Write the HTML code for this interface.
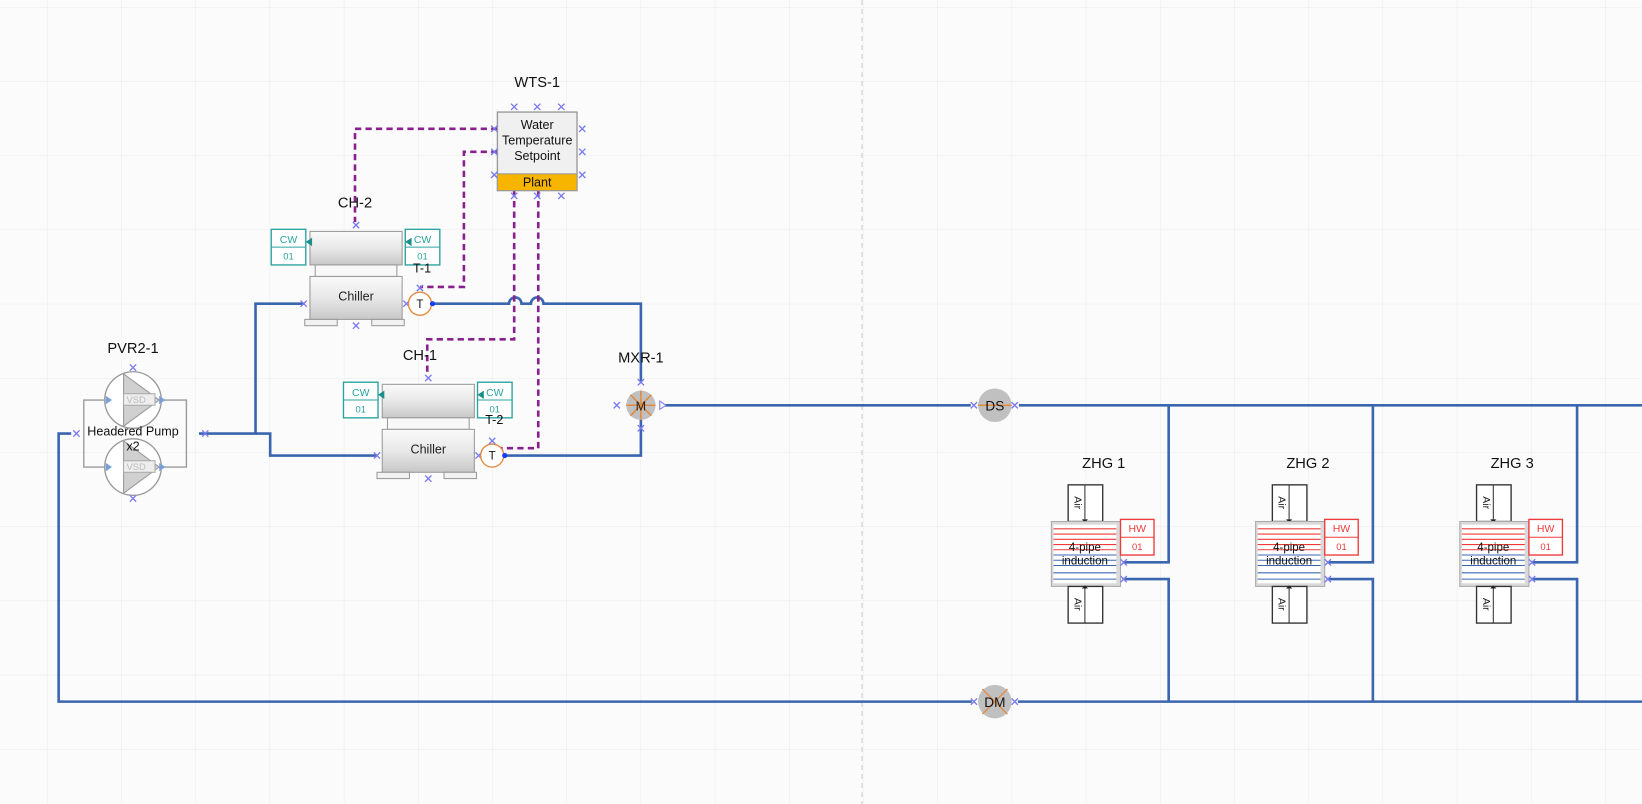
<!DOCTYPE html>
<html><head><meta charset="utf-8"><style>
html,body{margin:0;padding:0;background:#fbfbfb;}
svg{display:block;font-family:"Liberation Sans",sans-serif;}
</style></head><body>
<svg width="1642" height="804" viewBox="0 0 1642 804" xmlns="http://www.w3.org/2000/svg">
<defs>
<pattern id="g" x="47" y="7" width="74.2" height="74.2" patternUnits="userSpaceOnUse">
<path d="M0 0H74.2M0 0V74.2" stroke="#ebebeb" stroke-width="1" fill="none"/>
</pattern>
<linearGradient id="cyl" x1="0" y1="0" x2="0" y2="1"><stop offset="0" stop-color="#fafafa"/><stop offset="0.5" stop-color="#e8e8e8"/><stop offset="1" stop-color="#c8c8c8"/></linearGradient>
<g id="x"><path d="M-3-3L3 3M-3 3L3-3" stroke="#7b7bf0" stroke-width="1.3"/></g>
<g id="chiller">
<rect x="0" y="0" width="88" height="32" fill="url(#cyl)" stroke="#999"/>
<rect x="5" y="32" width="78" height="11" fill="#f8f8f8" stroke="#999"/>
<rect x="0" y="43" width="88" height="41" fill="url(#cyl)" stroke="#999"/>
<rect x="-5" y="84" width="31" height="6" fill="#f2f2f2" stroke="#999"/>
<rect x="59" y="84" width="31" height="6" fill="#f2f2f2" stroke="#999"/>
<text x="44" y="66" font-size="12" text-anchor="middle" fill="#222">Chiller</text>
<rect x="-37" y="-2" width="33" height="34" fill="#fff" stroke="#2aa3a0" stroke-width="1.3"/>
<line x1="-37" y1="15" x2="-4" y2="15" stroke="#2aa3a0"/>
<text x="-20.5" y="11" font-size="10" text-anchor="middle" fill="#2aa3a0">CW</text>
<text x="-20.5" y="27" font-size="9" text-anchor="middle" fill="#2aa3a0">01</text>
<rect x="91" y="-2" width="33" height="34" fill="#fff" stroke="#2aa3a0" stroke-width="1.3"/>
<line x1="91" y1="15" x2="124" y2="15" stroke="#2aa3a0"/>
<text x="107.5" y="11" font-size="10" text-anchor="middle" fill="#2aa3a0">CW</text>
<text x="107.5" y="27" font-size="9" text-anchor="middle" fill="#2aa3a0">01</text>
<path d="M-4 10l6-4v8z" fill="#1a8f8a"/><path d="M91 10l6-4v8z" fill="#1a8f8a"/>
<use href="#x" x="44" y="-6"/><use href="#x" x="44" y="90"/>
</g>
<g id="zhg">
<rect x="16" y="0" width="33" height="35" fill="#fff" stroke="#333" stroke-width="1.3"/>
<line x1="32" y1="0" x2="32" y2="35" stroke="#333"/>
<text transform="translate(22,17) rotate(90)" font-size="10" text-anchor="middle" fill="#222">Air</text>
<path d="M29 33h6l-3 3z" fill="#222"/>
<rect x="0" y="35" width="66" height="62" fill="#d9d9d9" stroke="#aaa"/>
<rect x="2" y="38" width="60" height="56" fill="#fff"/>
<g stroke="#f03a3a" stroke-width="1"><line x1="2" y1="42" x2="62" y2="42"/><line x1="2" y1="47" x2="62" y2="47"/><line x1="2" y1="52" x2="62" y2="52"/><line x1="2" y1="57" x2="62" y2="57"/><line x1="2" y1="62" x2="62" y2="62"/></g>
<g stroke="#3a66b0" stroke-width="1"><line x1="2" y1="67" x2="62" y2="67"/><line x1="2" y1="72" x2="62" y2="72"/><line x1="2" y1="77" x2="62" y2="77"/><line x1="2" y1="84" x2="62" y2="84"/><line x1="2" y1="90" x2="62" y2="90"/></g>
<text x="32" y="63" font-size="11" text-anchor="middle" fill="#111">4-pipe</text>
<text x="32" y="76" font-size="11" text-anchor="middle" fill="#111">induction</text>
<rect x="66" y="33" width="32" height="34" fill="#fff" stroke="#f03a3a" stroke-width="1.3"/>
<line x1="66" y1="50" x2="98" y2="50" stroke="#f03a3a"/>
<text x="82" y="45" font-size="10" text-anchor="middle" fill="#f03a3a">HW</text>
<text x="82" y="62" font-size="9" text-anchor="middle" fill="#f03a3a">01</text>
<rect x="16" y="97" width="33" height="35" fill="#fff" stroke="#333" stroke-width="1.3"/>
<line x1="32" y1="97" x2="32" y2="132" stroke="#333"/>
<text transform="translate(22,114) rotate(90)" font-size="10" text-anchor="middle" fill="#222">Air</text>
<path d="M29 99h6l-3-3z" fill="#222"/>
<use href="#x" x="69" y="74"/><use href="#x" x="69" y="90"/>
</g>
</defs>
<rect width="1642" height="804" fill="url(#g)"/>
<line x1="862" y1="0" x2="862" y2="804" stroke="#c8c8c8" stroke-dasharray="5,4"/>

<g transform="scale(1.0472)">
<!-- pipes -->
<g stroke="#3a66b0" stroke-width="2.5" fill="none">
<path d="M190 414H244V290H290"/>
<path d="M244 414H258V435H360"/>
<path d="M412 290H486a6 6 0 0 1 12 0H507a6 6 0 0 1 12 0H612V364"/>
<path d="M483 435H612V400"/>
<path d="M635 387H927"/>
<path d="M973 387H1642"/>
<path d="M1116 387V537H1072"/><path d="M1072 553H1116V670"/>
<path d="M1311 387V537H1267"/><path d="M1267 553H1311V670"/>
<path d="M1506 387V537H1462"/><path d="M1462 553H1506V670"/>
<path d="M972 670H1642"/>
<path d="M928 670H56V414H68"/>
</g>

<!-- purple controls -->
<g stroke="#8a1f8f" stroke-width="2.5" fill="none" stroke-dasharray="6,4">
<path d="M475 123H339V212"/>
<path d="M475 145H443V274H401"/>
<path d="M491 182V324H408V358"/>
<path d="M514 182V428H470"/>
</g>

<!-- pump -->
<text x="127" y="337" font-size="14" text-anchor="middle" fill="#111">PVR2-1</text>
<g stroke="#999" fill="none" stroke-width="1.3"><path d="M102 382H80V446H102M152 382H178V446H152"/></g>
<g>
<circle cx="127" cy="382" r="27" fill="#fff" stroke="#999" stroke-width="1.3"/>
<path d="M118 357L152 382L118 407Z" fill="#d0d0d0" stroke="#999"/>
<rect x="118" y="376" width="30" height="11" fill="#eee" stroke="#aaa"/><text x="130" y="385" font-size="9" text-anchor="middle" fill="#bbb">VSD</text>
<circle cx="127" cy="446" r="27" fill="#fff" stroke="#999" stroke-width="1.3"/>
<path d="M118 421L152 446L118 471Z" fill="#d0d0d0" stroke="#999"/>
<rect x="118" y="440" width="30" height="11" fill="#eee" stroke="#aaa"/><text x="130" y="449" font-size="9" text-anchor="middle" fill="#bbb">VSD</text>
<path d="M101 378l6 4-6 4zM152 378l6 4-6 4zM101 442l6 4-6 4zM152 442l6 4-6 4z" fill="#7aa0d8"/>
</g>
<text x="127" y="416" font-size="12" text-anchor="middle" fill="#111">Headered Pump</text>
<text x="127" y="430" font-size="12" text-anchor="middle" fill="#111">x2</text>
<use href="#x" x="73" y="414"/><use href="#x" x="196" y="414"/><use href="#x" x="127" y="351"/><use href="#x" x="127" y="476"/>

<!-- CH-2 -->
<text x="339" y="198" font-size="14" text-anchor="middle" fill="#111">CH-2</text>
<use href="#chiller" x="296" y="221"/>
<use href="#x" x="290" y="290"/><use href="#x" x="388" y="290"/>
<circle cx="401" cy="290" r="11" fill="#fff" stroke="#e08a40" stroke-width="1.3"/>
<text x="401" y="294" font-size="11" text-anchor="middle" fill="#111">T</text>
<text x="403" y="260" font-size="12" text-anchor="middle" fill="#111">T-1</text>
<use href="#x" x="401" y="275"/><circle cx="413" cy="290" r="2.5" fill="#1a3cff"/>

<!-- CH-1 -->
<text x="401" y="344" font-size="14" text-anchor="middle" fill="#111">CH-1</text>
<use href="#chiller" x="365" y="367"/>
<use href="#x" x="360" y="435"/><use href="#x" x="457" y="435"/>
<circle cx="470" cy="435" r="11" fill="#fff" stroke="#e08a40" stroke-width="1.3"/>
<text x="470" y="439" font-size="11" text-anchor="middle" fill="#111">T</text>
<text x="472" y="405" font-size="12" text-anchor="middle" fill="#111">T-2</text>
<use href="#x" x="470" y="421"/><circle cx="482" cy="435" r="2.5" fill="#1a3cff"/>

<!-- WTS -->
<text x="513" y="83" font-size="14" text-anchor="middle" fill="#111">WTS-1</text>
<rect x="475" y="107" width="76" height="75" fill="#f0f0f0" stroke="#999" stroke-width="1.3"/>
<rect x="475" y="166" width="76" height="16" fill="#f7b500" stroke="#999"/>
<text x="513" y="123" font-size="12" text-anchor="middle" fill="#111">Water</text>
<text x="513" y="138" font-size="12" text-anchor="middle" fill="#111">Temperature</text>
<text x="513" y="153" font-size="12" text-anchor="middle" fill="#111">Setpoint</text>
<text x="513" y="178" font-size="12" text-anchor="middle" fill="#111">Plant</text>
<use href="#x" x="491" y="102"/><use href="#x" x="513" y="102"/><use href="#x" x="536" y="102"/>
<use href="#x" x="491" y="187"/><use href="#x" x="513" y="187"/><use href="#x" x="536" y="187"/>
<use href="#x" x="472" y="123"/><use href="#x" x="472" y="145"/><use href="#x" x="472" y="167"/>
<use href="#x" x="556" y="123"/><use href="#x" x="556" y="145"/><use href="#x" x="556" y="167"/>

<!-- MXR -->
<text x="612" y="346" font-size="14" text-anchor="middle" fill="#111">MXR-1</text>
<circle cx="612" cy="387" r="14" fill="#c0c0c0"/>
<g stroke="#e08a40" stroke-width="1.5"><path d="M598 387H626M612 373V401M602 377L622 397M622 377L602 397"/></g>
<text x="612" y="392" font-size="12" text-anchor="middle" fill="#222">M</text>
<use href="#x" x="612" y="365"/><use href="#x" x="612" y="409"/><use href="#x" x="589" y="387"/>
<path d="M630 383l6 4-6 4z" fill="none" stroke="#7b7bf0"/>

<!-- DS DM -->
<circle cx="950" cy="387" r="16" fill="#c0c0c0"/>
<line x1="934" y1="387" x2="966" y2="387" stroke="#e08a40" stroke-width="1.5"/>
<text x="950" y="392" font-size="13" text-anchor="middle" fill="#111">DS</text>
<use href="#x" x="969" y="387"/><use href="#x" x="930" y="387"/>
<circle cx="950" cy="670" r="16" fill="#c0c0c0"/>
<path d="M938 658L962 682M962 658L938 682" stroke="#e08a40" stroke-width="1.3"/>
<text x="950" y="675" font-size="13" text-anchor="middle" fill="#111">DM</text>
<use href="#x" x="969" y="670"/><use href="#x" x="930" y="670"/>

<!-- ZHGs -->
<text x="1054" y="447" font-size="14" text-anchor="middle" fill="#111">ZHG 1</text>
<use href="#zhg" x="1004" y="463"/>
<text x="1249" y="447" font-size="14" text-anchor="middle" fill="#111">ZHG 2</text>
<use href="#zhg" x="1199" y="463"/>
<text x="1444" y="447" font-size="14" text-anchor="middle" fill="#111">ZHG 3</text>
<use href="#zhg" x="1394" y="463"/>
</g>
</svg>
</body></html>
